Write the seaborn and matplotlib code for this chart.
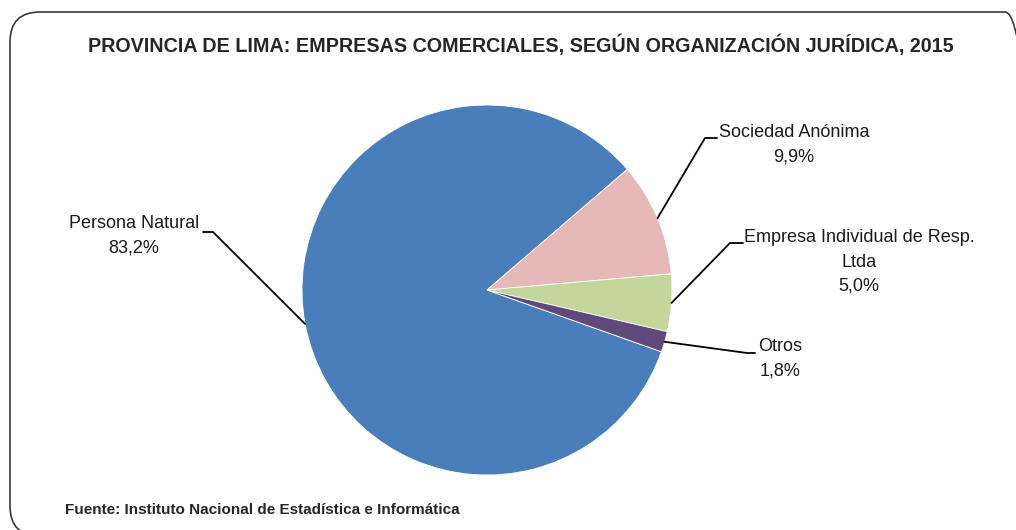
import numpy as np
import seaborn as sns
import matplotlib.pyplot as plt
from matplotlib import font_manager
from matplotlib.patches import FancyBboxPatch
from matplotlib.transforms import IdentityTransform

# --- DATOS ---
categorias = ["Persona Natural", "Sociedad Anónima",
              "Empresa Individual de Resp.\nLtda", "Otros"]
porcentajes = [83.2, 9.9, 5.0, 1.8]
colores = ["#4A7EBB", "#E6B9B8", "#C3D69B", "#604A7B"]

titulo = "PROVINCIA DE LIMA: EMPRESAS COMERCIALES, SEGÚN ORGANIZACIÓN JURÍDICA, 2015"
fuente = "Fuente: Instituto Nacional de Estadística e Informática"

# --- ESTILO ---
sns.set_theme(style="white")
nombres = {f.name for f in font_manager.fontManager.ttflist}
familia = "Liberation Sans Narrow" if "Liberation Sans Narrow" in nombres else "Liberation Sans"
plt.rcParams["font.family"] = [familia, "DejaVu Sans"]

W, H = 1016, 530
fig = plt.figure(figsize=(W / 100, H / 100), dpi=100)
fig.patch.set_facecolor("white")

# marco redondeado (se sale por la derecha y por abajo)
marco = FancyBboxPatch((10, -6), 1025, 524, boxstyle="round,pad=0,rounding_size=30",
                       transform=IdentityTransform(), facecolor="none",
                       edgecolor="#3a3a3a", linewidth=1.2)
fig.add_artist(marco)

# --- PASTEL ---
cx, cy, r = 487, 290, 185
ax = fig.add_axes([(cx - r) / W, (H - cy - r) / H, 2 * r / W, 2 * r / H])

inicio = -19.5
wedges, _ = ax.pie(porcentajes, colors=sns.color_palette(colores), startangle=inicio,
                   counterclock=False, radius=1,
                   wedgeprops=dict(edgecolor="white", linewidth=0.6))
ax.set_xlim(-1, 1)
ax.set_ylim(-1, 1)
ax.set_aspect("auto")
ax.axis("off")

# etiquetas con líneas guía (codo y texto en píxeles)
def px(x, y):
    return (x - cx) / r, (cy - y) / r

codos = [(213, 232), (705, 138), (730, 243), (747, 353)]
finales = [(203, 232), (717, 138), (743, 243), (755, 353)]
textos = [(134, 236), (794, 145), (859, 262), (780, 359)]

for w, cat, val, codo, fin, txt in zip(wedges, categorias, porcentajes, codos, finales, textos):
    ang = np.deg2rad((w.theta1 + w.theta2) / 2)
    x0, y0 = np.cos(ang), np.sin(ang)
    x1, y1 = px(*codo)
    x2, y2 = px(*fin)
    ax.plot([x0, x1, x2], [y0, y1, y2], color="black", lw=1.3, clip_on=False)
    tx, ty = px(*txt)
    etiqueta = f"{cat}\n{val:.1f}%".replace(".", ",").replace("Resp,", "Resp.")
    ax.text(tx, ty, etiqueta, ha="center", va="center", multialignment="center",
            fontsize=13, color="#1a1a1a", linespacing=1.55, clip_on=False)

fig.text(521 / W, 1 - 45 / H, titulo, ha="center", va="center",
         fontsize=14.2, fontweight="bold", color="#262626")
fig.text(65 / W, 1 - 510 / H, fuente, ha="left", va="center",
         fontsize=11, fontweight="bold", color="#262626")

fig.savefig("out.png", dpi=100)
